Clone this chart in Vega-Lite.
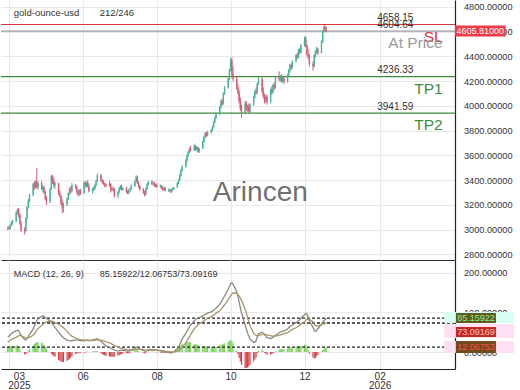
{
"$schema":"https://vega.github.io/schema/vega-lite/v6.json",
"padding":0,
"background":"white",
"spacing":0,
"config":{"font":"Liberation Sans","view":{"stroke":null},"axis":{"labelFont":"Liberation Sans","labelOverlap":false},"text":{"font":"Liberation Sans"}},
"resolve":{"scale":{"x":"shared"}},
"datasets":{
"lv":[{"n":"SL","p":4658.15},{"n":"At Price","p":4604.64},{"n":"TP1","p":4236.33},{"n":"TP2","p":3941.59}],
"tg":[{"n":"MACD","v":85.15922},{"n":"Signal","v":73.09169},{"n":"Hist","v":12.06753}],
"p":[
{"d":"2025-03-31","o":3010,"h":3025,"l":2995,"c":3015,"m":38,"s":25,"hi":13},
{"d":"2025-04-01","o":3015,"h":3030,"l":3000,"c":3005,"m":40,"s":27,"hi":13},
{"d":"2025-04-02","o":3005,"h":3040,"l":3000,"c":3035,"m":43,"s":29,"hi":14},
{"d":"2025-04-03","o":3035,"h":3070,"l":3025,"c":3060,"m":46,"s":31,"hi":15},
{"d":"2025-04-04","o":3060,"h":3080,"l":3040,"c":3070,"m":49,"s":33,"hi":16},
{"d":"2025-04-07","o":3070,"h":3150,"l":3060,"c":3140,"m":53,"s":37,"hi":16},
{"d":"2025-04-08","o":3140,"h":3170,"l":3120,"c":3160,"m":55,"s":39,"hi":16},
{"d":"2025-04-09","o":3160,"h":3175,"l":3100,"c":3120,"m":54,"s":41,"hi":13},
{"d":"2025-04-10","o":3120,"h":3130,"l":3040,"c":3050,"m":48,"s":42,"hi":6},
{"d":"2025-04-11","o":3050,"h":3070,"l":2980,"c":3000,"m":42,"s":41,"hi":1},
{"d":"2025-04-14","o":3000,"h":3020,"l":2960,"c":2990,"m":31,"s":37,"hi":-6},
{"d":"2025-04-15","o":2990,"h":3100,"l":2980,"c":3090,"m":30,"s":35,"hi":-5},
{"d":"2025-04-16","o":3090,"h":3190,"l":3080,"c":3180,"m":34,"s":35,"hi":-1},
{"d":"2025-04-17","o":3180,"h":3250,"l":3170,"c":3235,"m":39,"s":36,"hi":3},
{"d":"2025-04-18","o":3235,"h":3290,"l":3220,"c":3280,"m":44,"s":37,"hi":7},
{"d":"2025-04-21","o":3280,"h":3380,"l":3270,"c":3370,"m":58,"s":42,"hi":16},
{"d":"2025-04-22","o":3370,"h":3390,"l":3320,"c":3345,"m":66,"s":46,"hi":20},
{"d":"2025-04-23","o":3345,"h":3400,"l":3335,"c":3390,"m":73,"s":50,"hi":23},
{"d":"2025-04-24","o":3390,"h":3500,"l":3330,"c":3340,"m":79,"s":55,"hi":24},
{"d":"2025-04-25","o":3340,"h":3390,"l":3320,"c":3375,"m":84,"s":59,"hi":25},
{"d":"2025-04-28","o":3375,"h":3395,"l":3320,"c":3330,"m":90,"s":67,"hi":23},
{"d":"2025-04-29","o":3330,"h":3360,"l":3300,"c":3345,"m":91,"s":70,"hi":21},
{"d":"2025-04-30","o":3345,"h":3355,"l":3290,"c":3300,"m":89,"s":72,"hi":17},
{"d":"2025-05-01","o":3300,"h":3310,"l":3240,"c":3250,"m":87,"s":74,"hi":13},
{"d":"2025-05-02","o":3250,"h":3270,"l":3200,"c":3225,"m":85,"s":76,"hi":9},
{"d":"2025-05-05","o":3225,"h":3340,"l":3215,"c":3330,"m":78,"s":78,"hi":0},
{"d":"2025-05-06","o":3330,"h":3440,"l":3320,"c":3430,"m":74,"s":78,"hi":-4},
{"d":"2025-05-07","o":3430,"h":3445,"l":3370,"c":3390,"m":70,"s":77,"hi":-7},
{"d":"2025-05-08","o":3390,"h":3420,"l":3340,"c":3360,"m":66,"s":76,"hi":-10},
{"d":"2025-05-09","o":3360,"h":3390,"l":3330,"c":3375,"m":62,"s":74,"hi":-12},
{"d":"2025-05-12","o":3375,"h":3380,"l":3280,"c":3295,"m":50,"s":70,"hi":-20},
{"d":"2025-05-13","o":3295,"h":3320,"l":3260,"c":3270,"m":46,"s":68,"hi":-22},
{"d":"2025-05-14","o":3270,"h":3280,"l":3200,"c":3210,"m":42,"s":66,"hi":-24},
{"d":"2025-05-15","o":3210,"h":3245,"l":3130,"c":3180,"m":39,"s":64,"hi":-25},
{"d":"2025-05-16","o":3180,"h":3220,"l":3140,"c":3200,"m":36,"s":61,"hi":-25},
{"d":"2025-05-19","o":3200,"h":3260,"l":3190,"c":3250,"m":30,"s":52,"hi":-22},
{"d":"2025-05-20","o":3250,"h":3300,"l":3240,"c":3295,"m":29,"s":49,"hi":-20},
{"d":"2025-05-21","o":3295,"h":3340,"l":3280,"c":3320,"m":28,"s":45,"hi":-17},
{"d":"2025-05-22","o":3320,"h":3350,"l":3290,"c":3310,"m":28,"s":42,"hi":-14},
{"d":"2025-05-23","o":3310,"h":3380,"l":3300,"c":3360,"m":29,"s":40,"hi":-11},
{"d":"2025-05-26","o":3360,"h":3370,"l":3330,"c":3345,"m":30,"s":35,"hi":-5},
{"d":"2025-05-27","o":3345,"h":3355,"l":3290,"c":3300,"m":30,"s":34,"hi":-4},
{"d":"2025-05-28","o":3300,"h":3320,"l":3270,"c":3285,"m":30,"s":33,"hi":-3},
{"d":"2025-05-29","o":3285,"h":3330,"l":3270,"c":3320,"m":30,"s":32,"hi":-2},
{"d":"2025-05-30","o":3320,"h":3330,"l":3280,"c":3295,"m":29,"s":31,"hi":-2},
{"d":"2025-06-02","o":3295,"h":3390,"l":3290,"c":3380,"m":28,"s":30,"hi":-2},
{"d":"2025-06-03","o":3380,"h":3395,"l":3340,"c":3355,"m":29,"s":30,"hi":-1},
{"d":"2025-06-04","o":3355,"h":3385,"l":3340,"c":3375,"m":30,"s":30,"hi":0},
{"d":"2025-06-05","o":3375,"h":3400,"l":3340,"c":3350,"m":30,"s":29,"hi":1},
{"d":"2025-06-06","o":3350,"h":3375,"l":3300,"c":3310,"m":29,"s":29,"hi":0},
{"d":"2025-06-09","o":3310,"h":3340,"l":3290,"c":3325,"m":30,"s":29,"hi":1},
{"d":"2025-06-10","o":3325,"h":3350,"l":3310,"c":3330,"m":31,"s":29,"hi":2},
{"d":"2025-06-11","o":3330,"h":3370,"l":3320,"c":3360,"m":32,"s":30,"hi":2},
{"d":"2025-06-12","o":3360,"h":3405,"l":3350,"c":3395,"m":33,"s":30,"hi":3},
{"d":"2025-06-13","o":3395,"h":3455,"l":3385,"c":3440,"m":33,"s":31,"hi":2},
{"d":"2025-06-16","o":3440,"h":3450,"l":3385,"c":3395,"m":27,"s":30,"hi":-3},
{"d":"2025-06-17","o":3395,"h":3410,"l":3370,"c":3390,"m":24,"s":29,"hi":-5},
{"d":"2025-06-18","o":3390,"h":3400,"l":3360,"c":3370,"m":21,"s":28,"hi":-7},
{"d":"2025-06-19","o":3370,"h":3380,"l":3345,"c":3365,"m":19,"s":27,"hi":-8},
{"d":"2025-06-20","o":3365,"h":3375,"l":3340,"c":3355,"m":16,"s":26,"hi":-10},
{"d":"2025-06-23","o":3355,"h":3395,"l":3345,"c":3370,"m":12,"s":23,"hi":-11},
{"d":"2025-06-24","o":3370,"h":3375,"l":3300,"c":3320,"m":10,"s":22,"hi":-12},
{"d":"2025-06-25","o":3320,"h":3345,"l":3310,"c":3335,"m":8,"s":20,"hi":-12},
{"d":"2025-06-26","o":3335,"h":3350,"l":3310,"c":3330,"m":7,"s":19,"hi":-12},
{"d":"2025-06-27","o":3330,"h":3335,"l":3260,"c":3275,"m":5,"s":17,"hi":-12},
{"d":"2025-06-30","o":3275,"h":3310,"l":3255,"c":3300,"m":3,"s":12,"hi":-9},
{"d":"2025-07-01","o":3300,"h":3345,"l":3295,"c":3335,"m":3,"s":11,"hi":-8},
{"d":"2025-07-02","o":3335,"h":3360,"l":3320,"c":3350,"m":4,"s":10,"hi":-6},
{"d":"2025-07-03","o":3350,"h":3365,"l":3315,"c":3325,"m":4,"s":9,"hi":-5},
{"d":"2025-07-04","o":3325,"h":3345,"l":3315,"c":3335,"m":4,"s":8,"hi":-4},
{"d":"2025-07-07","o":3335,"h":3345,"l":3295,"c":3305,"m":3,"s":6,"hi":-3},
{"d":"2025-07-08","o":3305,"h":3320,"l":3285,"c":3300,"m":2,"s":5,"hi":-3},
{"d":"2025-07-09","o":3300,"h":3330,"l":3285,"c":3320,"m":2,"s":5,"hi":-3},
{"d":"2025-07-10","o":3320,"h":3340,"l":3305,"c":3330,"m":3,"s":5,"hi":-2},
{"d":"2025-07-11","o":3330,"h":3365,"l":3320,"c":3355,"m":5,"s":5,"hi":0},
{"d":"2025-07-14","o":3355,"h":3400,"l":3345,"c":3390,"m":9,"s":5,"hi":4},
{"d":"2025-07-15","o":3390,"h":3440,"l":3380,"c":3425,"m":12,"s":6,"hi":6},
{"d":"2025-07-16","o":3425,"h":3435,"l":3370,"c":3380,"m":11,"s":7,"hi":4},
{"d":"2025-07-17","o":3380,"h":3390,"l":3340,"c":3350,"m":9,"s":7,"hi":2},
{"d":"2025-07-18","o":3350,"h":3360,"l":3315,"c":3325,"m":7,"s":7,"hi":0},
{"d":"2025-07-21","o":3325,"h":3335,"l":3290,"c":3300,"m":4,"s":6,"hi":-2},
{"d":"2025-07-22","o":3300,"h":3315,"l":3268,"c":3285,"m":2,"s":5,"hi":-3},
{"d":"2025-07-23","o":3285,"h":3340,"l":3275,"c":3330,"m":2,"s":4,"hi":-2},
{"d":"2025-07-24","o":3330,"h":3375,"l":3320,"c":3365,"m":4,"s":4,"hi":0},
{"d":"2025-07-25","o":3365,"h":3395,"l":3355,"c":3385,"m":6,"s":4,"hi":2},
{"d":"2025-07-28","o":3385,"h":3400,"l":3360,"c":3375,"m":6,"s":5,"hi":1},
{"d":"2025-07-29","o":3375,"h":3390,"l":3355,"c":3380,"m":6,"s":5,"hi":1},
{"d":"2025-07-30","o":3380,"h":3385,"l":3345,"c":3355,"m":5,"s":5,"hi":0},
{"d":"2025-07-31","o":3355,"h":3370,"l":3340,"c":3360,"m":5,"s":5,"hi":0},
{"d":"2025-08-01","o":3360,"h":3375,"l":3340,"c":3345,"m":4,"s":5,"hi":-1},
{"d":"2025-08-04","o":3345,"h":3365,"l":3335,"c":3355,"m":3,"s":4,"hi":-1},
{"d":"2025-08-05","o":3355,"h":3360,"l":3325,"c":3335,"m":2,"s":4,"hi":-2},
{"d":"2025-08-06","o":3335,"h":3350,"l":3315,"c":3320,"m":1,"s":3,"hi":-2},
{"d":"2025-08-07","o":3320,"h":3345,"l":3310,"c":3340,"m":1,"s":3,"hi":-2},
{"d":"2025-08-08","o":3340,"h":3345,"l":3310,"c":3315,"m":0,"s":2,"hi":-2},
{"d":"2025-08-11","o":3315,"h":3335,"l":3305,"c":3320,"m":-1,"s":1,"hi":-2},
{"d":"2025-08-12","o":3320,"h":3330,"l":3300,"c":3310,"m":-2,"s":1,"hi":-3},
{"d":"2025-08-13","o":3310,"h":3330,"l":3295,"c":3325,"m":-2,"s":0,"hi":-2},
{"d":"2025-08-14","o":3325,"h":3340,"l":3310,"c":3330,"m":-1,"s":0,"hi":-1},
{"d":"2025-08-15","o":3330,"h":3345,"l":3320,"c":3340,"m":0,"s":0,"hi":0},
{"d":"2025-08-18","o":3340,"h":3385,"l":3335,"c":3375,"m":8,"s":2,"hi":6},
{"d":"2025-08-19","o":3375,"h":3410,"l":3365,"c":3400,"m":13,"s":3,"hi":10},
{"d":"2025-08-20","o":3400,"h":3450,"l":3395,"c":3440,"m":19,"s":6,"hi":13},
{"d":"2025-08-21","o":3440,"h":3490,"l":3430,"c":3480,"m":26,"s":9,"hi":17},
{"d":"2025-08-22","o":3480,"h":3520,"l":3470,"c":3510,"m":33,"s":12,"hi":21},
{"d":"2025-08-25","o":3510,"h":3570,"l":3500,"c":3560,"m":47,"s":23,"hi":24},
{"d":"2025-08-26","o":3560,"h":3610,"l":3540,"c":3600,"m":53,"s":28,"hi":25},
{"d":"2025-08-27","o":3600,"h":3640,"l":3590,"c":3630,"m":58,"s":33,"hi":25},
{"d":"2025-08-28","o":3630,"h":3665,"l":3615,"c":3655,"m":63,"s":38,"hi":25},
{"d":"2025-08-29","o":3655,"h":3680,"l":3630,"c":3645,"m":68,"s":44,"hi":24},
{"d":"2025-09-01","o":3645,"h":3690,"l":3635,"c":3675,"m":79,"s":58,"hi":21},
{"d":"2025-09-02","o":3675,"h":3685,"l":3640,"c":3650,"m":81,"s":62,"hi":19},
{"d":"2025-09-03","o":3650,"h":3675,"l":3640,"c":3665,"m":84,"s":65,"hi":19},
{"d":"2025-09-04","o":3665,"h":3670,"l":3620,"c":3630,"m":85,"s":68,"hi":17},
{"d":"2025-09-05","o":3630,"h":3660,"l":3620,"c":3655,"m":87,"s":71,"hi":16},
{"d":"2025-09-08","o":3655,"h":3720,"l":3650,"c":3710,"m":91,"s":76,"hi":15},
{"d":"2025-09-09","o":3710,"h":3760,"l":3700,"c":3750,"m":93,"s":79,"hi":14},
{"d":"2025-09-10","o":3750,"h":3790,"l":3740,"c":3780,"m":95,"s":81,"hi":14},
{"d":"2025-09-11","o":3780,"h":3790,"l":3750,"c":3765,"m":96,"s":83,"hi":13},
{"d":"2025-09-12","o":3765,"h":3800,"l":3755,"c":3790,"m":98,"s":85,"hi":13},
{"d":"2025-09-15","o":3790,"h":3815,"l":3775,"c":3805,"m":101,"s":89,"hi":12},
{"d":"2025-09-16","o":3805,"h":3840,"l":3795,"c":3830,"m":103,"s":91,"hi":12},
{"d":"2025-09-17","o":3830,"h":3880,"l":3825,"c":3870,"m":105,"s":93,"hi":12},
{"d":"2025-09-18","o":3870,"h":3915,"l":3860,"c":3905,"m":108,"s":95,"hi":13},
{"d":"2025-09-19","o":3905,"h":3945,"l":3895,"c":3935,"m":111,"s":98,"hi":13},
{"d":"2025-09-22","o":3935,"h":4000,"l":3925,"c":3990,"m":120,"s":104,"hi":16},
{"d":"2025-09-23","o":3990,"h":4050,"l":3980,"c":4040,"m":125,"s":107,"hi":18},
{"d":"2025-09-24","o":4040,"h":4060,"l":4000,"c":4020,"m":130,"s":111,"hi":19},
{"d":"2025-09-25","o":4020,"h":4110,"l":4010,"c":4100,"m":136,"s":115,"hi":21},
{"d":"2025-09-26","o":4100,"h":4160,"l":4090,"c":4150,"m":141,"s":119,"hi":22},
{"d":"2025-09-29","o":4150,"h":4230,"l":4140,"c":4220,"m":158,"s":132,"hi":26},
{"d":"2025-09-30","o":4220,"h":4300,"l":4210,"c":4290,"m":165,"s":137,"hi":28},
{"d":"2025-10-01","o":4290,"h":4385,"l":4280,"c":4370,"m":172,"s":142,"hi":30},
{"d":"2025-10-02","o":4370,"h":4395,"l":4240,"c":4260,"m":174,"s":146,"hi":28},
{"d":"2025-10-03","o":4260,"h":4320,"l":4200,"c":4220,"m":171,"s":149,"hi":22},
{"d":"2025-10-06","o":4220,"h":4235,"l":4130,"c":4150,"m":152,"s":148,"hi":4},
{"d":"2025-10-07","o":4150,"h":4180,"l":4090,"c":4110,"m":140,"s":145,"hi":-5},
{"d":"2025-10-08","o":4110,"h":4130,"l":4020,"c":4040,"m":126,"s":141,"hi":-15},
{"d":"2025-10-09","o":4040,"h":4070,"l":3960,"c":3980,"m":112,"s":136,"hi":-24},
{"d":"2025-10-10","o":3980,"h":4010,"l":3905,"c":3940,"m":98,"s":130,"hi":-32},
{"d":"2025-10-13","o":3940,"h":4040,"l":3930,"c":4020,"m":68,"s":108,"hi":-40},
{"d":"2025-10-14","o":4020,"h":4040,"l":3960,"c":3975,"m":58,"s":98,"hi":-40},
{"d":"2025-10-15","o":3975,"h":4010,"l":3950,"c":4000,"m":48,"s":87,"hi":-39},
{"d":"2025-10-16","o":4000,"h":4020,"l":3940,"c":3955,"m":40,"s":76,"hi":-36},
{"d":"2025-10-17","o":3955,"h":4020,"l":3945,"c":4010,"m":33,"s":66,"hi":-33},
{"d":"2025-10-20","o":4010,"h":4080,"l":4000,"c":4070,"m":24,"s":47,"hi":-23},
{"d":"2025-10-21","o":4070,"h":4130,"l":4060,"c":4120,"m":25,"s":44,"hi":-19},
{"d":"2025-10-22","o":4120,"h":4150,"l":4090,"c":4105,"m":28,"s":42,"hi":-14},
{"d":"2025-10-23","o":4105,"h":4190,"l":4100,"c":4180,"m":38,"s":41,"hi":-3},
{"d":"2025-10-24","o":4180,"h":4235,"l":4170,"c":4220,"m":46,"s":42,"hi":4},
{"d":"2025-10-27","o":4220,"h":4230,"l":4100,"c":4120,"m":50,"s":44,"hi":6},
{"d":"2025-10-28","o":4120,"h":4150,"l":4060,"c":4080,"m":47,"s":45,"hi":2},
{"d":"2025-10-29","o":4080,"h":4100,"l":4020,"c":4040,"m":43,"s":45,"hi":-2},
{"d":"2025-10-30","o":4040,"h":4090,"l":4025,"c":4075,"m":40,"s":44,"hi":-4},
{"d":"2025-10-31","o":4075,"h":4090,"l":4010,"c":4030,"m":36,"s":43,"hi":-7},
{"d":"2025-11-03","o":4030,"h":4140,"l":4020,"c":4130,"m":34,"s":41,"hi":-7},
{"d":"2025-11-04","o":4130,"h":4160,"l":4090,"c":4110,"m":35,"s":40,"hi":-5},
{"d":"2025-11-05","o":4110,"h":4180,"l":4100,"c":4170,"m":37,"s":40,"hi":-3},
{"d":"2025-11-06","o":4170,"h":4190,"l":4130,"c":4150,"m":39,"s":40,"hi":-1},
{"d":"2025-11-07","o":4150,"h":4240,"l":4140,"c":4230,"m":42,"s":40,"hi":2},
{"d":"2025-11-10","o":4230,"h":4280,"l":4200,"c":4215,"m":48,"s":42,"hi":6},
{"d":"2025-11-11","o":4215,"h":4250,"l":4195,"c":4240,"m":50,"s":43,"hi":7},
{"d":"2025-11-12","o":4240,"h":4255,"l":4190,"c":4200,"m":51,"s":44,"hi":7},
{"d":"2025-11-13","o":4200,"h":4240,"l":4185,"c":4225,"m":52,"s":45,"hi":7},
{"d":"2025-11-14","o":4225,"h":4235,"l":4180,"c":4195,"m":53,"s":46,"hi":7},
{"d":"2025-11-17","o":4195,"h":4260,"l":4190,"c":4250,"m":58,"s":49,"hi":9},
{"d":"2025-11-18","o":4250,"h":4300,"l":4240,"c":4290,"m":61,"s":51,"hi":10},
{"d":"2025-11-19","o":4290,"h":4340,"l":4270,"c":4330,"m":64,"s":53,"hi":11},
{"d":"2025-11-20","o":4330,"h":4345,"l":4290,"c":4310,"m":66,"s":55,"hi":11},
{"d":"2025-11-21","o":4310,"h":4370,"l":4300,"c":4360,"m":68,"s":57,"hi":11},
{"d":"2025-11-24","o":4360,"h":4420,"l":4350,"c":4410,"m":74,"s":61,"hi":13},
{"d":"2025-11-25","o":4410,"h":4430,"l":4380,"c":4395,"m":76,"s":63,"hi":13},
{"d":"2025-11-26","o":4395,"h":4460,"l":4385,"c":4450,"m":79,"s":65,"hi":14},
{"d":"2025-11-27","o":4450,"h":4470,"l":4420,"c":4430,"m":81,"s":67,"hi":14},
{"d":"2025-11-28","o":4430,"h":4500,"l":4425,"c":4490,"m":85,"s":70,"hi":15},
{"d":"2025-12-01","o":4490,"h":4560,"l":4480,"c":4545,"m":94,"s":76,"hi":18},
{"d":"2025-12-02","o":4545,"h":4565,"l":4470,"c":4485,"m":97,"s":79,"hi":18},
{"d":"2025-12-03","o":4485,"h":4500,"l":4400,"c":4420,"m":95,"s":82,"hi":13},
{"d":"2025-12-04","o":4420,"h":4460,"l":4380,"c":4400,"m":88,"s":83,"hi":5},
{"d":"2025-12-05","o":4400,"h":4420,"l":4320,"c":4340,"m":78,"s":82,"hi":-4},
{"d":"2025-12-08","o":4340,"h":4360,"l":4285,"c":4320,"m":62,"s":76,"hi":-14},
{"d":"2025-12-09","o":4320,"h":4420,"l":4310,"c":4410,"m":54,"s":70,"hi":-16},
{"d":"2025-12-10","o":4410,"h":4450,"l":4390,"c":4440,"m":52,"s":67,"hi":-15},
{"d":"2025-12-11","o":4440,"h":4480,"l":4420,"c":4460,"m":55,"s":65,"hi":-10},
{"d":"2025-12-12","o":4460,"h":4470,"l":4410,"c":4430,"m":58,"s":65,"hi":-7},
{"d":"2025-12-15","o":4430,"h":4530,"l":4425,"c":4520,"m":70,"s":69,"hi":1},
{"d":"2025-12-16","o":4520,"h":4610,"l":4510,"c":4600,"m":75,"s":70,"hi":5},
{"d":"2025-12-17","o":4600,"h":4650,"l":4590,"c":4640,"m":79,"s":71,"hi":8},
{"d":"2025-12-18","o":4640,"h":4655,"l":4600,"c":4620,"m":82,"s":72,"hi":10},
{"d":"2025-12-19","o":4620,"h":4640,"l":4595,"c":4605.81,"m":85.15922,"s":73.09169,"hi":12.06753}
]},
"vconcat":[
{
"width":454,"height":260,
"layer":[
{"data":{"name":"lv"},"mark":{"type":"rule","strokeWidth":1.2},
 "encoding":{
  "y":{"field":"p","type":"quantitative","scale":{"domain":[2754.5,4856.4],"zero":false,"nice":false},
   "axis":{"orient":"right","values":[2800,3000,3200,3400,3600,3800,4000,4200,4400,4600,4800],"format":".5f","title":null,"grid":true,"gridColor":"#e8e8e8","ticks":false,"labelOverlap":false,"labelPadding":8.5,"labelFontSize":9.2,"labelColor":"#333333","domainColor":"#222222","domainWidth":1.2}},
  "color":{"field":"n","type":"nominal","scale":{"domain":["SL","At Price","TP1","TP2"],"range":["#d9363e","#9a9a9a","#3d8b3d","#3d8b3d"]},"legend":null}}},
{"data":{"name":"p"},"mark":{"type":"rule","strokeWidth":1},
 "encoding":{
  "x":{"field":"d","type":"temporal","scale":{"domain":[{"year":2025,"month":3,"date":29,"hours":14},{"year":2026,"month":3,"date":31,"hours":2}],"nice":false},
   "axis":{"values":[{"year":2025,"month":4,"date":1},{"year":2025,"month":6,"date":1},{"year":2025,"month":8,"date":1},{"year":2025,"month":10,"date":1},{"year":2025,"month":12,"date":1},{"year":2026,"month":2,"date":1}],"grid":true,"gridColor":"#e8e8e8","labels":false,"ticks":false,"domain":true,"domainColor":"#333333","title":null}},
  "y":{"field":"l","type":"quantitative","axis":{"orient":"right","values":[2800,3000,3200,3400,3600,3800,4000,4200,4400,4600,4800],"format":".5f","title":null,"grid":true,"gridColor":"#e8e8e8","ticks":false,"labelOverlap":false,"labelPadding":8.5,"labelFontSize":9.2,"labelColor":"#333333","domainColor":"#222222","domainWidth":1.2}},"y2":{"field":"h"},
  "color":{"condition":{"test":"datum.c >= datum.o","value":"#47b39d"},"value":"#d95b73"}}},
{"data":{"name":"p"},"mark":{"type":"bar","size":1.4},
 "encoding":{
  "x":{"field":"d","type":"temporal"},
  "y":{"field":"o","type":"quantitative","axis":{"orient":"right","values":[2800,3000,3200,3400,3600,3800,4000,4200,4400,4600,4800],"format":".5f","title":null,"grid":true,"gridColor":"#e8e8e8","ticks":false,"labelOverlap":false,"labelPadding":8.5,"labelFontSize":9.2,"labelColor":"#333333","domainColor":"#222222","domainWidth":1.2}},"y2":{"field":"c"},
  "color":{"condition":{"test":"datum.c >= datum.o","value":"#47b39d"},"value":"#d95b73"}}},
{"data":{"name":"lv"},"mark":{"type":"text","align":"left","baseline":"middle","dy":-6.5,"fontSize":10,"color":"#333333"},
 "encoding":{"x":{"datum":{"year":2026,"month":1,"date":30},"type":"temporal"},"y":{"field":"p","type":"quantitative","axis":{"orient":"right","values":[2800,3000,3200,3400,3600,3800,4000,4200,4400,4600,4800],"format":".5f","title":null,"grid":true,"gridColor":"#e8e8e8","ticks":false,"labelOverlap":false,"labelPadding":8.5,"labelFontSize":9.2,"labelColor":"#333333","domainColor":"#222222","domainWidth":1.2}},"text":{"field":"p","type":"quantitative","format":".2f"}}},
{"data":{"name":"lv"},"mark":{"type":"text","align":"right","baseline":"middle","dy":12,"fontSize":15.5},
 "encoding":{"x":{"datum":{"year":2026,"month":3,"date":25},"type":"temporal"},"y":{"field":"p","type":"quantitative","axis":{"orient":"right","values":[2800,3000,3200,3400,3600,3800,4000,4200,4400,4600,4800],"format":".5f","title":null,"grid":true,"gridColor":"#e8e8e8","ticks":false,"labelOverlap":false,"labelPadding":8.5,"labelFontSize":9.2,"labelColor":"#333333","domainColor":"#222222","domainWidth":1.2}},"text":{"field":"n"},
  "color":{"field":"n","type":"nominal","legend":null}}},
{"data":{"values":[{}]},"mark":{"type":"text","align":"center","baseline":"middle","fontSize":28,"color":"#707070"},
 "encoding":{"x":{"datum":{"year":2025,"month":10,"date":25,"hours":12},"type":"temporal"},"y":{"datum":3296,"type":"quantitative","axis":{"orient":"right","values":[2800,3000,3200,3400,3600,3800,4000,4200,4400,4600,4800],"format":".5f","title":null,"grid":true,"gridColor":"#e8e8e8","ticks":false,"labelOverlap":false,"labelPadding":8.5,"labelFontSize":9.2,"labelColor":"#333333","domainColor":"#222222","domainWidth":1.2}},"text":{"value":"Arincen"}}},
{"data":{"values":[{}]},"mark":{"type":"text","align":"left","baseline":"middle","fontSize":9.5,"color":"#333333"},
 "encoding":{"x":{"datum":{"year":2025,"month":4,"date":5},"type":"temporal"},"y":{"datum":4751,"type":"quantitative","axis":{"orient":"right","values":[2800,3000,3200,3400,3600,3800,4000,4200,4400,4600,4800],"format":".5f","title":null,"grid":true,"gridColor":"#e8e8e8","ticks":false,"labelOverlap":false,"labelPadding":8.5,"labelFontSize":9.2,"labelColor":"#333333","domainColor":"#222222","domainWidth":1.2}},"text":{"value":"gold-ounce-usd"}}},
{"data":{"values":[{}]},"mark":{"type":"text","align":"left","baseline":"middle","fontSize":9.5,"color":"#333333"},
 "encoding":{"x":{"datum":{"year":2025,"month":6,"date":15},"type":"temporal"},"y":{"datum":4751,"type":"quantitative","axis":{"orient":"right","values":[2800,3000,3200,3400,3600,3800,4000,4200,4400,4600,4800],"format":".5f","title":null,"grid":true,"gridColor":"#e8e8e8","ticks":false,"labelOverlap":false,"labelPadding":8.5,"labelFontSize":9.2,"labelColor":"#333333","domainColor":"#222222","domainWidth":1.2}},"text":{"value":"212/246"}}},
{"data":{"values":[{}]},"mark":{"type":"rect","color":"#ee3b47"},
 "encoding":{"x":{"datum":{"year":2026,"month":4,"date":4,"hours":4},"type":"temporal"},"x2":{"datum":{"year":2026,"month":5,"date":16}},"y":{"datum":4650.3,"type":"quantitative","axis":{"orient":"right","values":[2800,3000,3200,3400,3600,3800,4000,4200,4400,4600,4800],"format":".5f","title":null,"grid":true,"gridColor":"#e8e8e8","ticks":false,"labelOverlap":false,"labelPadding":8.5,"labelFontSize":9.2,"labelColor":"#333333","domainColor":"#222222","domainWidth":1.2}},"y2":{"datum":4561.3}}},
{"data":{"values":[{}]},"mark":{"type":"text","align":"center","baseline":"middle","fontSize":9,"color":"#ffffff"},
 "encoding":{"x":{"datum":{"year":2026,"month":4,"date":25},"type":"temporal"},"y":{"datum":4605.81,"type":"quantitative","axis":{"orient":"right","values":[2800,3000,3200,3400,3600,3800,4000,4200,4400,4600,4800],"format":".5f","title":null,"grid":true,"gridColor":"#e8e8e8","ticks":false,"labelOverlap":false,"labelPadding":8.5,"labelFontSize":9.2,"labelColor":"#333333","domainColor":"#222222","domainWidth":1.2}},"text":{"value":"4605.81000"}}}
]
},
{
"width":454,"height":109,
"layer":[
{"data":{"name":"p"},"mark":{"type":"bar","size":2.3},
 "encoding":{
  "x":{"field":"d","type":"temporal","scale":{"domain":[{"year":2025,"month":3,"date":29,"hours":14},{"year":2026,"month":3,"date":31,"hours":2}],"nice":false},
   "axis":{"values":[{"year":2025,"month":4,"date":1},{"year":2025,"month":6,"date":1},{"year":2025,"month":8,"date":1},{"year":2025,"month":10,"date":1},{"year":2025,"month":12,"date":1},{"year":2026,"month":2,"date":1}],
    "labelExpr":"month(datum.value)==3 ? ['03','2025'] : (month(datum.value)==1 ? ['02','2026'] : timeFormat(datum.value,'%m'))",
    "labelOffset":{"condition":{"test":"month(datum.value)==3","value":10},"value":0},
    "labelFlush":false,"labelOverlap":false,"grid":true,"gridColor":"#e8e8e8","ticks":false,"labelPadding":2,"labelFontSize":10,"labelLineHeight":9,"labelColor":"#333333","domainColor":"#222222","domainWidth":1.2,"title":null}},
  "y":{"field":"hi","type":"quantitative","scale":{"domain":[-42.8,231.7],"zero":false,"nice":false},
   "axis":{"orient":"right","values":[0,100,200],"format":".5f","title":null,"grid":true,"gridColor":"#e8e8e8","ticks":false,"labelOverlap":false,"labelPadding":8.5,"labelFontSize":9.2,"labelColor":"#333333","domainColor":"#222222","domainWidth":1.2}},
  "y2":{"datum":0},
  "color":{"condition":{"test":"datum.hi >= 0","value":"#d3f6f0"},"value":"#fde0ec"}}},
{"data":{"name":"p"},"mark":{"type":"bar","size":1},
 "encoding":{
  "x":{"field":"d","type":"temporal"},
  "y":{"field":"hi","type":"quantitative"},"y2":{"datum":0},
  "color":{"condition":{"test":"datum.hi >= 0","value":"#7fcf4f"},"value":"#d03a3a"}}},
{"data":{"name":"tg"},"mark":{"type":"rule","strokeDash":[3,2],"strokeWidth":1.3,"color":"#222222"},
 "encoding":{"y":{"field":"v","type":"quantitative"}}},
{"data":{"name":"p"},"mark":{"type":"line","strokeWidth":1.3,"color":"#8a8a80"},
 "encoding":{"x":{"field":"d","type":"temporal"},"y":{"field":"m","type":"quantitative"}}},
{"data":{"name":"p"},"mark":{"type":"line","strokeWidth":1.3,"color":"#a8946a"},
 "encoding":{"x":{"field":"d","type":"temporal"},"y":{"field":"s","type":"quantitative"}}},
{"data":{"values":[{}]},"mark":{"type":"text","align":"left","baseline":"middle","fontSize":9,"color":"#333333"},
 "encoding":{"x":{"datum":{"year":2025,"month":4,"date":5},"type":"temporal"},"y":{"datum":196.4,"type":"quantitative"},"text":{"value":"MACD (12, 26, 9)"}}},
{"data":{"values":[{}]},"mark":{"type":"text","align":"left","baseline":"middle","fontSize":9,"color":"#333333"},
 "encoding":{"x":{"datum":{"year":2025,"month":6,"date":15},"type":"temporal"},"y":{"datum":196.4,"type":"quantitative"},"text":{"value":"85.15922/12.06753/73.09169"}}},
{"data":{"values":[{}]},"mark":{"type":"rect","color":"#d8fff4"},
 "encoding":{"x":{"datum":{"year":2026,"month":3,"date":26,"hours":7},"type":"temporal"},"x2":{"datum":{"year":2026,"month":5,"date":23}},"y":{"datum":100.7,"type":"quantitative"},"y2":{"datum":73.0}}},
{"data":{"values":[{}]},"mark":{"type":"rect","color":"#ffe0f2"},
 "encoding":{"x":{"datum":{"year":2026,"month":3,"date":26,"hours":7},"type":"temporal"},"x2":{"datum":{"year":2026,"month":5,"date":23}},"y":{"datum":70.5,"type":"quantitative"},"y2":{"datum":35.2}}},
{"data":{"values":[{}]},"mark":{"type":"rect","color":"#ffe0f2"},
 "encoding":{"x":{"datum":{"year":2026,"month":3,"date":26,"hours":7},"type":"temporal"},"x2":{"datum":{"year":2026,"month":5,"date":23}},"y":{"datum":27.7,"type":"quantitative"},"y2":{"datum":-2.6}}},
{"data":{"values":[{}]},"mark":{"type":"rect","color":"#5f5a22"},
 "encoding":{"x":{"datum":{"year":2026,"month":4,"date":4,"hours":22},"type":"temporal"},"x2":{"datum":{"year":2026,"month":5,"date":8}},"y":{"datum":98.2,"type":"quantitative"},"y2":{"datum":73.0}}},
{"data":{"values":[{}]},"mark":{"type":"rect","color":"#c42a24"},
 "encoding":{"x":{"datum":{"year":2026,"month":4,"date":4,"hours":22},"type":"temporal"},"x2":{"datum":{"year":2026,"month":5,"date":8}},"y":{"datum":62.9,"type":"quantitative"},"y2":{"datum":37.7}}},
{"data":{"values":[{}]},"mark":{"type":"rect","color":"#6e4a1e"},
 "encoding":{"x":{"datum":{"year":2026,"month":4,"date":4,"hours":22},"type":"temporal"},"x2":{"datum":{"year":2026,"month":5,"date":8}},"y":{"datum":27.7,"type":"quantitative"},"y2":{"datum":-2.6}}},
{"data":{"values":[{}]},"mark":{"type":"text","align":"center","baseline":"middle","fontSize":9,"color":"#8df08d"},
 "encoding":{"x":{"datum":{"year":2026,"month":4,"date":21,"hours":12},"type":"temporal"},"y":{"datum":85.6,"type":"quantitative"},"text":{"value":"85.15922"}}},
{"data":{"values":[{}]},"mark":{"type":"text","align":"center","baseline":"middle","fontSize":9,"color":"#ffc0c0"},
 "encoding":{"x":{"datum":{"year":2026,"month":4,"date":21,"hours":12},"type":"temporal"},"y":{"datum":50.3,"type":"quantitative"},"text":{"value":"73.09169"}}},
{"data":{"values":[{}]},"mark":{"type":"text","align":"center","baseline":"middle","fontSize":9,"color":"#ff4a4a"},
 "encoding":{"x":{"datum":{"year":2026,"month":4,"date":21,"hours":12},"type":"temporal"},"y":{"datum":12.6,"type":"quantitative"},"text":{"value":"12.06753"}}}
]
}
]
}
